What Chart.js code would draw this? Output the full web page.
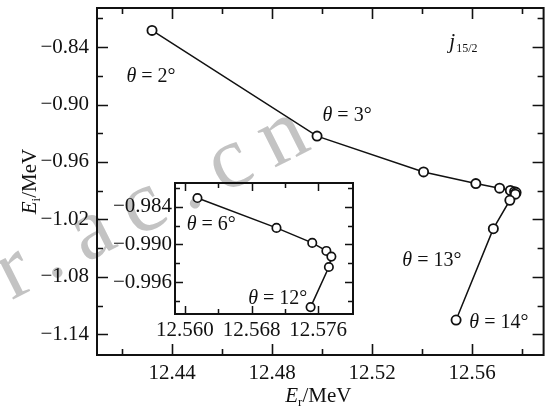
<!DOCTYPE html>
<html><head><meta charset="utf-8">
<script src="https://cdn.jsdelivr.net/npm/chart.js@4.4.1/dist/chart.umd.min.js"></script>
<style>
html,body{margin:0;padding:0;background:#fff;}
#wrap{position:relative;width:550px;height:410px;overflow:hidden;}
canvas{position:absolute;}
</style>
</head><body>
<div id="wrap">
<canvas id="main" width="550" height="410" style="left:0;top:0;width:550px;height:410px"></canvas>
<canvas id="inset" width="260" height="170" style="left:100px;top:175px;width:260px;height:170px"></canvas>
</div>
<script>
// ---- data (MeV) ----
const erHead = [12.4320, 12.4980, 12.5406];            // theta = 2°, 3°, 4°
const eiHead = [-0.8226, -0.9330, -0.9704];
const erInset = [12.5615, 12.5710, 12.5753, 12.5770, 12.5776, 12.5773, 12.5751]; // theta = 6°..12°
const eiInset = [-0.9826, -0.98736, -0.98976, -0.99104, -0.99194, -0.9936, -1.0000];
const erTail = [12.5685, 12.5536];                      // theta = 13°, 14°
const eiTail = [-1.0297, -1.1251];

// ---- ticks ----
const xLabelsMain = [12.44, 12.48, 12.52, 12.56];
const xTicksMain = [12.42, 12.44, 12.46, 12.48, 12.50, 12.52, 12.54, 12.56, 12.58];
const yLabelsMain = [-0.84, -0.90, -0.96, -1.02, -1.08, -1.14];
const yTicksMain = [-0.81, -0.84, -0.87, -0.90, -0.93, -0.96, -0.99, -1.02, -1.05, -1.08, -1.11, -1.14];
const xLabelsInset = [12.560, 12.568, 12.576];
const xTicksInset = [12.560, 12.564, 12.568, 12.572, 12.576];
const yLabelsInset = [-0.984, -0.990, -0.996];
const yTicksInset = [-0.981, -0.984, -0.987, -0.990, -0.993, -0.996, -0.999];

// ---- annotations (data coordinates) ----
const mainNotes = [
  {t: '2', x: 12.4218, y: -0.8768},
  {t: '3', x: 12.5002, y: -0.9177},
  {t: '13', x: 12.5321, y: -1.0690},
  {t: '14', x: 12.5589, y: -1.1334}
];
const jNote = {x: 12.5509, y: -0.8408};
const insetNotes = [
  {t: '6', x: 12.5602, y: -0.98773},
  {t: '12', x: 12.5676, y: -0.99957}
];

const FONT = "'Liberation Serif', 'Times New Roman', serif";
const INK = '#111';
Chart.defaults.font.family = FONT;
Chart.defaults.color = INK;

const toPts = (xs, ys) => xs.map((v, i) => ({x: v, y: ys[i]}));
const minusFmt = d => v => (v < 0 ? '\u2212' : '') + Math.abs(v).toFixed(d);

function drawTheta(ctx, px, py, num, size) {
  ctx.textBaseline = 'alphabetic';
  ctx.textAlign = 'left';
  ctx.font = 'italic ' + size + 'px ' + FONT;
  ctx.fillText('\u03b8', px, py);
  let w = ctx.measureText('\u03b8').width;
  ctx.font = size + 'px ' + FONT;
  ctx.fillText(' = ' + num + '\u00b0', px + w, py);
}

const framePlugin = {
  id: 'frame',
  beforeDraw(chart, args, opts) {
    if (opts.watermark) {
      const ctx = chart.ctx;
      ctx.save();
      ctx.fillStyle = 'rgba(180,180,180,0.8)';
      ctx.font = '88px ' + FONT;
      ctx.letterSpacing = '18px';
      ctx.translate(-44, 328);
      ctx.rotate(-26.7 * Math.PI / 180);
      ctx.fillText('pr.ac.cn', 0, 0);
      ctx.restore();
    }
  },
  afterDraw(chart, args, opts) {
    const {ctx, chartArea: a, scales: {x, y}} = chart;
    ctx.save();
    ctx.strokeStyle = INK;
    ctx.lineWidth = opts.frameW;
    ctx.strokeRect(a.left, a.top, a.right - a.left, a.bottom - a.top);
    ctx.lineWidth = opts.tickW;
    ctx.beginPath();
    opts.xTicks.forEach(v => {
      const p = Math.round(x.getPixelForValue(v)) + 0.5;
      const L = opts.xMajor.some(m => Math.abs(m - v) < 1e-9) ? opts.major : opts.minor;
      ctx.moveTo(p, a.bottom); ctx.lineTo(p, a.bottom - L);
      ctx.moveTo(p, a.top); ctx.lineTo(p, a.top + L);
    });
    opts.yTicks.forEach(v => {
      const p = Math.round(y.getPixelForValue(v)) + 0.5;
      const L = opts.yMajor.some(m => Math.abs(m - v) < 1e-9) ? opts.major : opts.minor;
      ctx.moveTo(a.left, p); ctx.lineTo(a.left + L, p);
      ctx.moveTo(a.right, p); ctx.lineTo(a.right - L, p);
    });
    ctx.stroke();
    ctx.fillStyle = INK;
    opts.notes.forEach(n => drawTheta(ctx, x.getPixelForValue(n.x), y.getPixelForValue(n.y), n.t, 20));
    if (opts.titles) {
      // j15/2
      const jx = x.getPixelForValue(jNote.x), jy = y.getPixelForValue(jNote.y);
      ctx.font = 'italic 21px ' + FONT;
      ctx.fillText('j', jx, jy);
      const jw = ctx.measureText('j').width;
      ctx.font = '12px ' + FONT;
      ctx.fillText('15/2', jx + jw + 1, jy + 4);
      // x title
      const cx = (a.left + a.right) / 2;
      const parts = [['italic 21px ', 'E', 0], ['13px ', 'r', 4], ['21px ', '/MeV', 0]];
      let tw = 0;
      parts.forEach(p => { ctx.font = p[0] + FONT; tw += ctx.measureText(p[1]).width; });
      let sx = cx - tw / 2 - 2;
      parts.forEach(p => { ctx.font = p[0] + FONT; ctx.fillText(p[1], sx, 402 + p[2]); sx += ctx.measureText(p[1]).width; });
      // y title
      ctx.save();
      ctx.translate(36, (a.top + a.bottom) / 2);
      ctx.rotate(-Math.PI / 2);
      const parts2 = [['italic 21px ', 'E', 0], ['13px ', 'i', 4], ['21px ', '/MeV', 0]];
      tw = 0;
      parts2.forEach(p => { ctx.font = p[0] + FONT; tw += ctx.measureText(p[1]).width; });
      sx = -tw / 2;
      parts2.forEach(p => { ctx.font = p[0] + FONT; ctx.fillText(p[1], sx, p[2]); sx += ctx.measureText(p[1]).width; });
      ctx.restore();
    }
    ctx.restore();
  }
};

function makeScales(xr, yr, xLab, yLab, xd, yd, yW, xH, xPad, yPad) {
  return {
    x: {
      type: 'linear', min: xr[0], max: xr[1],
      grid: {display: false, drawTicks: false}, border: {display: false},
      ticks: {callback: minusFmt(xd), font: {size: 21, family: FONT}, color: INK, padding: xPad, maxRotation: 0, autoSkip: false},
      afterBuildTicks: s => { s.ticks = xLab.map(v => ({value: v})); },
      afterFit: s => { s.height = xH; s.paddingLeft = 0; s.paddingRight = 0; s.paddingTop = 0; s.paddingBottom = 0; }
    },
    y: {
      type: 'linear', min: yr[0], max: yr[1],
      grid: {display: false, drawTicks: false}, border: {display: false},
      ticks: {callback: minusFmt(yd), font: {size: 21, family: FONT}, color: INK, padding: yPad, autoSkip: false},
      afterBuildTicks: s => { s.ticks = yLab.map(v => ({value: v})); },
      afterFit: s => { s.width = yW; s.paddingLeft = 0; s.paddingRight = 0; s.paddingTop = 0; s.paddingBottom = 0; }
    }
  };
}

const lineDs = (data, r, bw) => ({
  data, showLine: true, borderColor: INK, borderWidth: 1.5,
  pointRadius: r, pointBorderWidth: bw, pointBackgroundColor: '#fff', pointBorderColor: INK,
  tension: 0, clip: false
});

new Chart(document.getElementById('main'), {
  type: 'scatter',
  data: {datasets: [lineDs(toPts(erHead.concat(erInset, erTail), eiHead.concat(eiInset, eiTail)), 4.6, 1.8)]},
  options: {
    responsive: false, animation: false, devicePixelRatio: 1,
    layout: {padding: {top: 8, right: 6, left: 0, bottom: 0}},
    scales: makeScales([12.41, 12.5886], [-1.1616, -0.7992], xLabelsMain, yLabelsMain, 2, 2, 97, 55, 6, 8),
    plugins: {
      legend: {display: false}, tooltip: {enabled: false},
      frame: {watermark: true, titles: true, frameW: 2, tickW: 1.6, major: 11, minor: 6,
        xTicks: xTicksMain, xMajor: xLabelsMain, yTicks: yTicksMain, yMajor: yLabelsMain, notes: mainNotes}
    }
  },
  plugins: [framePlugin]
});

new Chart(document.getElementById('inset'), {
  type: 'scatter',
  data: {datasets: [lineDs(toPts(erInset, eiInset), 4.2, 1.7)]},
  options: {
    responsive: false, animation: false, devicePixelRatio: 1,
    layout: {padding: {top: 8, right: 7, left: 0, bottom: 0}},
    scales: makeScales([12.5588, 12.5802], [-1.0011, -0.9802], xLabelsInset, yLabelsInset, 3, 3, 75, 31, 4, 3),
    plugins: {
      legend: {display: false}, tooltip: {enabled: false},
      frame: {watermark: false, titles: false, frameW: 2, tickW: 1.5, major: 8, minor: 5,
        xTicks: xTicksInset, xMajor: xLabelsInset, yTicks: yTicksInset, yMajor: yLabelsInset, notes: insetNotes}
    }
  },
  plugins: [framePlugin]
});
</script>
</body></html>
